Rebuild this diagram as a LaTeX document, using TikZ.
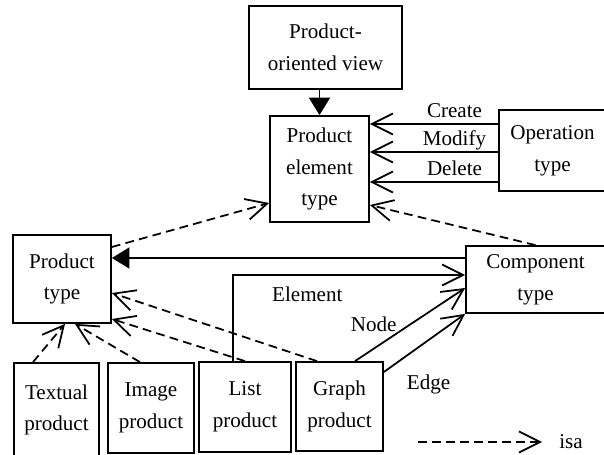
\documentclass[tikz,border=0pt]{standalone}
\usepackage{fontspec}
\setmainfont{Liberation Serif}
\usetikzlibrary{arrows.meta}

\begin{document}
\begin{tikzpicture}[x=0.02cm, y=-0.02cm,
  every node/.style={font=\fontsize{12}{18}\selectfont, align=center},
  box/.style 2 args={draw, line width=1pt, inner sep=0pt,
    minimum width=#1*0.02cm, minimum height=#2*0.02cm},
  lbl/.style={text depth=0pt},
  rel/.style={line width=1pt, -{Straight Barb[length=12pt, width=12pt]}},
  isa/.style={rel, dash pattern=on 5pt off 3pt},
  has/.style={line width=1pt, -{Triangle[length=10pt, width=12pt]}}]
  \useasboundingbox (0,0) rectangle (604,455);

  % boxes
  \node[box={153}{83}] (pov) at (325.5,47.5) {Product-\\oriented view};
  \node[box={99}{106}] (pet) at (319.5,169) {Product\\element\\type};
  \node[box={107}{81}] (op) at (552.5,150.5) {Operation\\type};
  \node[box={98}{88}] (pt) at (62,279) {Product\\type};
  \node[box={139}{67}] (comp) at (535.5,279.5) {Component\\type};
  \node[box={85}{94}] (txt) at (56.5,410) {Textual\\product};
  \node[box={86}{90}] (img) at (151,408) {Image\\product};
  \node[box={92}{90}] (list) at (245,407) {List\\product};
  \node[box={87}{89}] (graph) at (339.5,406.5) {Graph\\product};

  \draw[has] (pov.south -| pet.north) -- (pet.north);

  % operations
  \draw[rel] (op.west |- 0,124) -- node[lbl, above, pos=0.34] {Create} (pet.east |- 0,124);
  \draw[rel] (op.west |- 0,152) -- node[lbl, above, pos=0.34] {Modify} (pet.east |- 0,152);
  \draw[rel] (op.west |- 0,182) -- node[lbl, above, pos=0.34] {Delete} (pet.east |- 0,182);

  \draw[isa] (pt.east |- 0,247) -- (pet.west |- 0,203);
  \draw[isa] (comp.north) -- (pet.east |- 0,205);
  \draw[has] (comp.west |- 0,258) -- (pt.east |- 0,258);

  % components of list and graph
  \draw[rel] (list.north -| 233,0) |- node[lbl, below=3pt, pos=0.66] {Element} (comp.west |- 0,275);
  \draw[rel] (graph.north -| 355,0) -- node[lbl, above=6pt, pos=0.17] {Node} (comp.west |- 0,288);
  \draw[rel] (graph.east |- 0,372) -- node[below=16pt, pos=0.55] {Edge} (comp.south west);

  % isa
  \draw[isa] (txt.north -| 33,0) -- (pt.south -| 65,0);
  \draw[isa] (img.north -| 140,0) -- (pt.south -| 75,0);
  \draw[isa] (list.north) -- (pt.east |- 0,319);
  \draw[isa] (graph.north -| 317,0) -- (pt.east |- 0,293);

  % legend
  \coordinate (legs) at (418,442);
  \coordinate (lege) at (542,442);
  \node (isalbl) at (571,442) {isa};
  \draw[isa] (legs) -- (lege);
\end{tikzpicture}
\end{document}
